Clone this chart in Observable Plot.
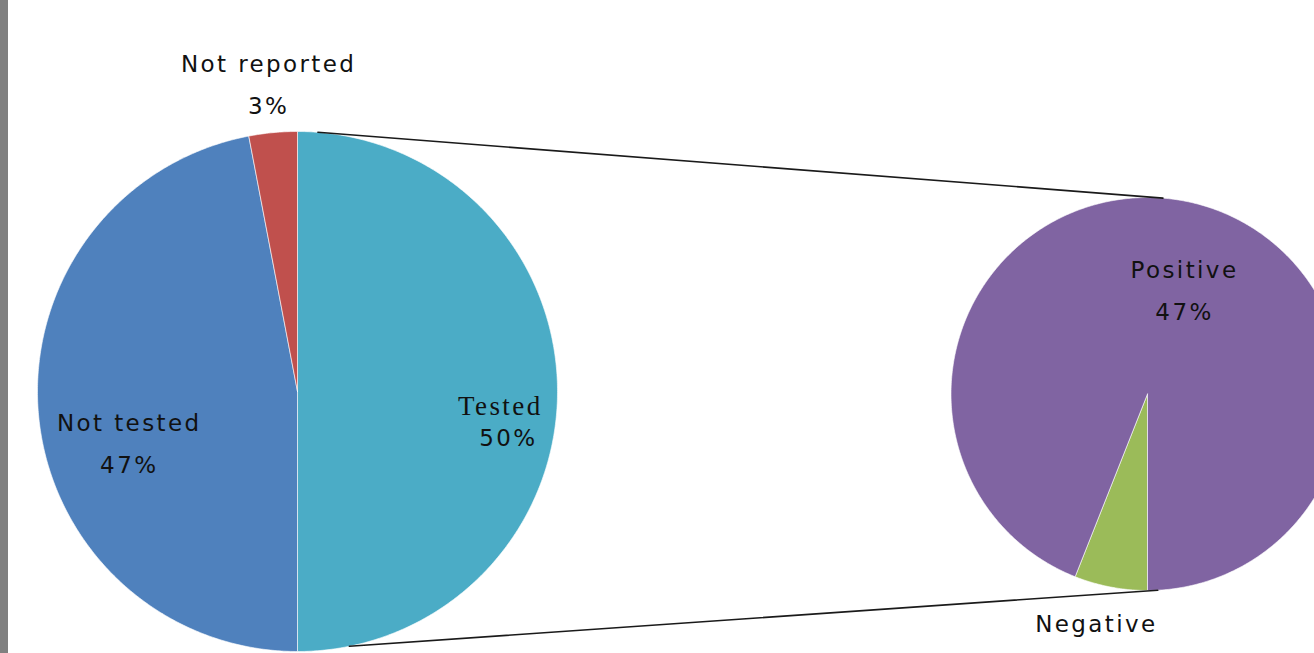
<!DOCTYPE html>
<html>
<head>
<meta charset="utf-8">
<script src="https://cdn.jsdelivr.net/npm/d3@7"></script>
<script src="https://cdn.jsdelivr.net/npm/@observablehq/plot@0.6"></script>
<style>
  html, body { margin: 0; padding: 0; background: #fff; overflow: hidden; }
  #wrap { position: relative; width: 1314px; height: 653px; }
  #bar { position: absolute; left: 0; top: 0; width: 8px; height: 653px; background: #808080; }
</style>
</head>
<body>
<div id="wrap"><div id="bar"></div><div id="chart"></div></div>
<script>
// ---- data ----
const mainCategories = ["Tested", "Not tested", "Not reported"];
const mainValues = [50, 47, 3];
const mainColors = ["#4BACC6", "#4F81BD", "#C0504D"];
const subCategories = ["Negative", "Positive"];
const subValues = [3, 47];
const subColors = ["#9BBB59", "#8064A2"];
const subShowPct = [false, true];

// ---- layout (pixel space) ----
const W = 1314, H = 653;
const mainPie = {cx: 297, cy: 391, r: 260, start: 0};
const subPie = {cx: 1147, cy: 393.5, r: 196.5, start: Math.PI};
const deg = Math.PI / 180;

function slices(cats, vals, cols, pie, prefix) {
  const arcs = d3.pie().sort(null).startAngle(pie.start).endAngle(pie.start + 2 * Math.PI)(vals);
  const total = d3.sum(vals);
  return arcs.map((a, i) => ({
    id: prefix + i, name: cats[i], value: vals[i], color: cols[i],
    pct: Math.round(vals[i] / total * 100),
    a0: a.startAngle, a1: a.endAngle, pie
  }));
}
function polygon(s) {
  const {cx, cy, r} = s.pie;
  const pts = [{id: s.id, color: s.color, x: cx, y: cy}];
  const n = Math.max(2, Math.ceil((s.a1 - s.a0) / (0.5 * deg)));
  for (let k = 0; k <= n; k++) {
    const a = s.a0 + (s.a1 - s.a0) * k / n;
    pts.push({id: s.id, color: s.color, x: cx + r * Math.sin(a), y: cy - r * Math.cos(a)});
  }
  pts.push({id: s.id, color: s.color, x: cx, y: cy});
  return pts;
}
const polar = (pie, a, rr) => ({x: pie.cx + rr * Math.sin(a), y: pie.cy - rr * Math.cos(a)});

const mainSlices = slices(mainCategories, mainValues, mainColors, mainPie, "m");
const subSlices = slices(subCategories, subValues, subColors, subPie, "s");
const polyData = [...mainSlices, ...subSlices].flatMap(polygon);

// connector lines between the pies
const connectors = [
  {id: "top", ...polar(mainPie, 4.5 * deg, mainPie.r)}, {id: "top", ...polar(subPie, 4.5 * deg, subPie.r)},
  {id: "bot", ...polar(mainPie, 168.5 * deg, mainPie.r)}, {id: "bot", ...polar(subPie, 177 * deg, subPie.r)}
];

// label placement: radial distance factor and pixel nudges per label
const labelPlacement = {
  "Tested": {rf: 0.78, dx: 0, dy: 31},
  "Not tested": {rf: 0.65, dx: 0, dy: 37},
  "Not reported": {rf: 1.18, dx: 0, dy: 0},
  "Positive": {rf: 0.0, dx: 37, dy: -102},
  "Negative": {rf: 1.17, dx: -8, dy: 5}
};
const labels = [];
for (const s of mainSlices) {
  const p = labelPlacement[s.name];
  const c = polar(s.pie, (s.a0 + s.a1) / 2, s.pie.r * p.rf);
  labels.push({name: s.name, pct: s.pct + "%", x: c.x + p.dx, y: c.y + p.dy, show: true});
}
const testedTotal = mainValues[0];
subSlices.forEach((s, i) => {
  const p = labelPlacement[s.name];
  const c = polar(s.pie, (s.a0 + s.a1) / 2, s.pie.r * p.rf);
  labels.push({name: s.name, pct: Math.round(s.value / d3.sum(subValues) * testedTotal) + "%", x: c.x + p.dx, y: c.y + p.dy, show: subShowPct[i]});
});

const sans = "'DejaVu Sans', Verdana, sans-serif";
const twoLine = labels.filter(d => d.name !== "Tested" && d.show);
const oneLine = labels.filter(d => d.name !== "Tested" && !d.show);
const testedLabel = labels.filter(d => d.name === "Tested");
const ink = "#111111";

const chart = Plot.plot({
  width: W, height: H,
  margin: 0,
  x: {domain: [0, W], range: [0, W], axis: null},
  y: {domain: [0, H], range: [0, H], axis: null},
  color: {type: "identity"},
  style: {background: "transparent", overflow: "visible"},
  marks: [
    Plot.line(polyData, {x: "x", y: "y", z: "id", fill: "color", stroke: "white", strokeWidth: 1, strokeOpacity: 0.6, curve: "linear"}),
    Plot.line(connectors, {x: "x", y: "y", z: "id", stroke: "#1a1a1a", strokeWidth: 1.6}),
    Plot.text(twoLine, {x: "x", y: "y", text: "name", fontFamily: sans, fontSize: 23, fill: ink, dy: -21}),
    Plot.text(twoLine, {x: "x", y: "y", text: "pct", fontFamily: sans, fontSize: 23, fill: ink, dy: 21}),
    Plot.text(oneLine, {x: "x", y: "y", text: "name", fontFamily: sans, fontSize: 23, fill: ink}),
    // "Tested" label in a serif face like the reference
    Plot.text(testedLabel, {x: "x", y: "y", text: "name", fontFamily: "'Liberation Serif', 'DejaVu Serif', serif", fontSize: 27, fill: ink, dy: -16}),
    Plot.text(testedLabel, {x: "x", y: "y", text: "pct", fontFamily: sans, fontSize: 23, fill: ink, dx: 8, dy: 16})
  ]
});
chart.style.letterSpacing = "2.4px";
document.getElementById("chart").appendChild(chart);
</script>
</body>
</html>
